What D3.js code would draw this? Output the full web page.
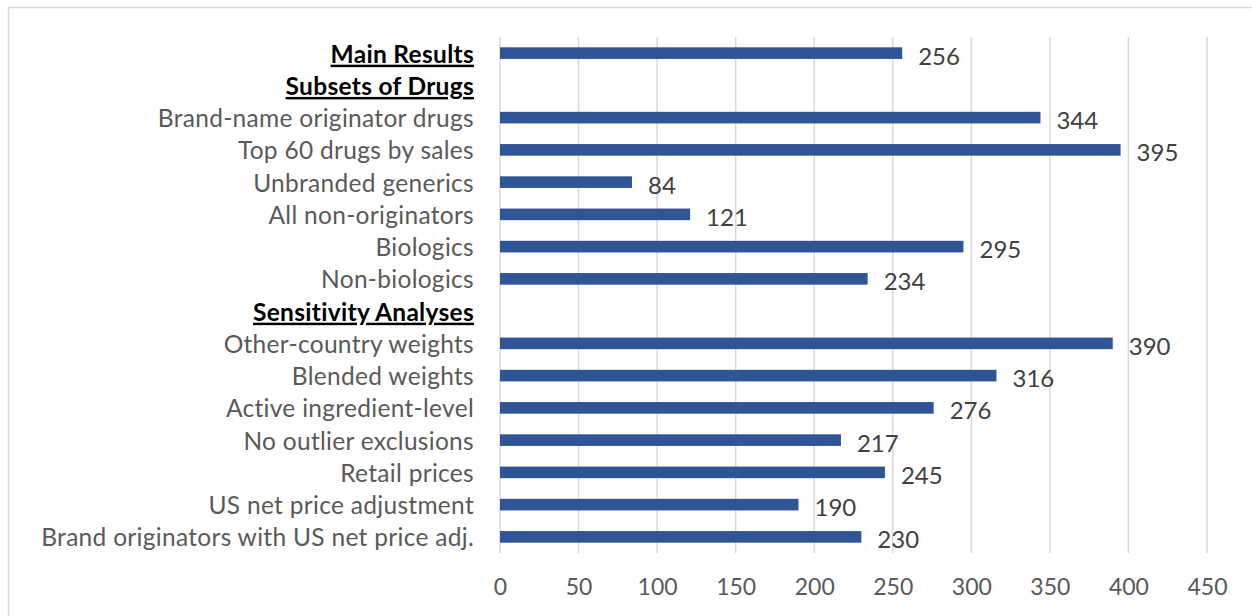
<!DOCTYPE html>
<html>
<head>
<meta charset="utf-8">
<script src="https://cdn.jsdelivr.net/npm/d3@7"></script>
<style>
  body { margin: 0; background: #fff; }
  svg { display: block; font-family: Lato, "Open Sans", sans-serif; }
</style>
</head>
<body>
<script>
// rows top to bottom; headers have no bar
var categories = [
  "Main Results",
  "Subsets of Drugs",
  "Brand-name originator drugs",
  "Top 60 drugs by sales",
  "Unbranded generics",
  "All non-originators",
  "Biologics",
  "Non-biologics",
  "Sensitivity Analyses",
  "Other-country weights",
  "Blended weights",
  "Active ingredient-level",
  "No outlier exclusions",
  "Retail prices",
  "US net price adjustment",
  "Brand originators with US net price adj."
];
var values = [256, null, 344, 395, 84, 121, 295, 234, null, 390, 316, 276, 217, 245, 190, 230];
var headers = ["Main Results", "Subsets of Drugs", "Sensitivity Analyses"];
var xTicks = [0, 50, 100, 150, 200, 250, 300, 350, 400, 450];

var W = 1252, H = 616;
var margin = {top: 37, right: 45, bottom: 63, left: 500},
    width = W - margin.left - margin.right,
    height = H - margin.top - margin.bottom;

var data = categories.map(function(c, i) { return {cat: c, value: values[i]}; });

var x = d3.scaleLinear().domain([0, 450]).range([0, width]);
var y = d3.scaleBand().domain(categories).range([0, height]).paddingInner(0.64).paddingOuter(0.32);

var svg = d3.select("body").append("svg")
    .attr("width", W)
    .attr("height", H);

svg.append("rect")
    .attr("x", 8.5).attr("y", 7.5)
    .attr("width", W).attr("height", H)
    .attr("fill", "none")
    .attr("stroke", "#d9d9d9")
    .attr("stroke-width", 1.5);

var g = svg.append("g")
    .attr("transform", "translate(" + margin.left + "," + margin.top + ")");

// gridlines
g.selectAll(".grid")
    .data(xTicks)
  .enter().append("line")
    .attr("class", "grid")
    .attr("x1", function(d) { return x(d); })
    .attr("x2", function(d) { return x(d); })
    .attr("y1", 0)
    .attr("y2", height)
    .attr("stroke", "#d9d9d9")
    .attr("stroke-width", 1.5);

// x axis labels
var xAxis = d3.axisBottom(x).tickValues(xTicks).tickSize(0).tickPadding(26);
g.append("g")
    .attr("class", "x axis")
    .attr("transform", "translate(0," + height + ")")
    .call(xAxis)
    .call(function(s) { s.select(".domain").remove(); })
    .selectAll("text")
      .attr("fill", "#595959")
      .style("font-size", "23px")
      .style("font-family", "Lato, sans-serif");

// category labels
g.selectAll(".cat")
    .data(data)
  .enter().append("text")
    .attr("class", "cat")
    .attr("x", -26)
    .attr("y", function(d) { return y(d.cat) + y.bandwidth() / 2 + 1; })
    .attr("dy", "0.35em")
    .attr("text-anchor", "end")
    .style("font-size", "24.5px")
    .style("letter-spacing", "0.3px")
    .style("font-weight", function(d) { return headers.indexOf(d.cat) >= 0 ? "bold" : "normal"; })
    .style("text-decoration", function(d) { return headers.indexOf(d.cat) >= 0 ? "underline" : "none"; })
    .attr("fill", function(d) { return headers.indexOf(d.cat) >= 0 ? "#000" : "#595959"; })
    .text(function(d) { return d.cat; });

var withVal = data.filter(function(d) { return d.value != null; });

g.selectAll(".bar")
    .data(withVal)
  .enter().append("rect")
    .attr("class", "bar")
    .attr("x", x(0))
    .attr("y", function(d) { return y(d.cat); })
    .attr("width", function(d) { return x(d.value) - x(0); })
    .attr("height", y.bandwidth())
    .attr("fill", "#2f5597");

g.selectAll(".val")
    .data(withVal)
  .enter().append("text")
    .attr("class", "val")
    .attr("x", function(d) { return x(d.value) + 16; })
    .attr("y", function(d) { return y(d.cat) + y.bandwidth() / 2 + 3; })
    .attr("dy", "0.35em")
    .style("font-size", "24px")
    .attr("fill", "#404040")
    .text(function(d) { return d.value; });
</script>
</body>
</html>
